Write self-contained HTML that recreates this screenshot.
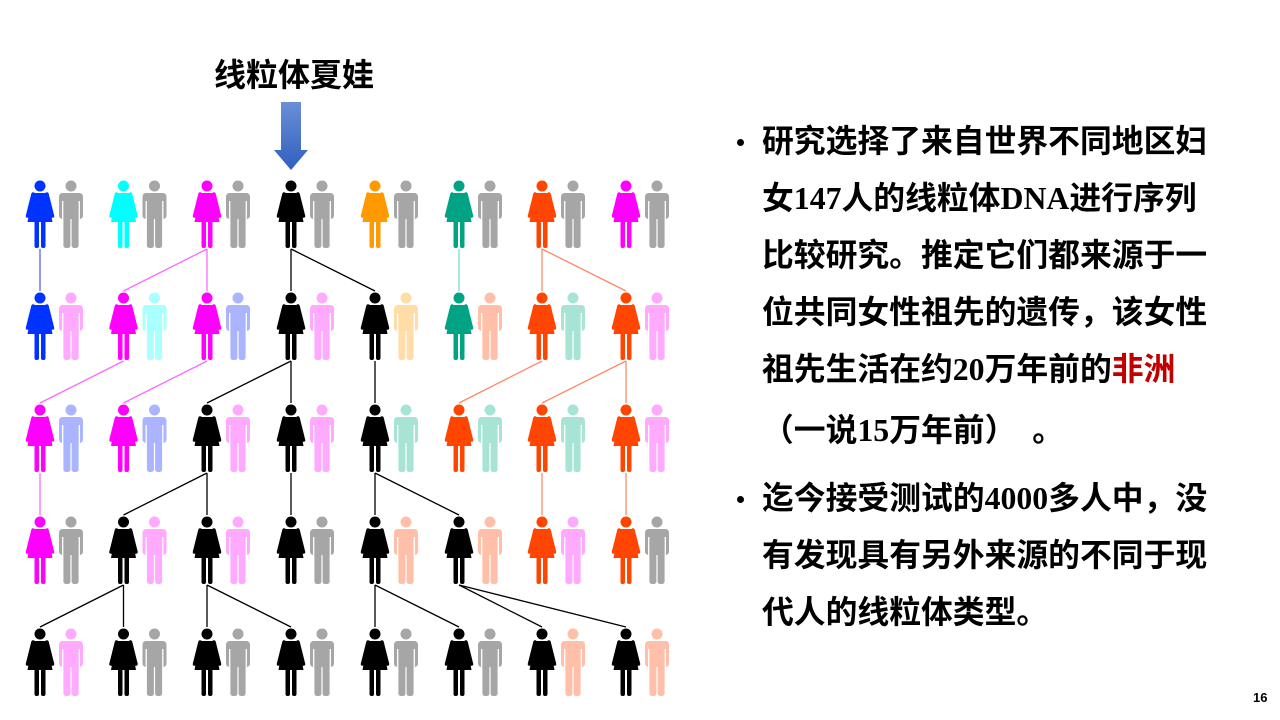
<!DOCTYPE html>
<html><head><meta charset="utf-8"><style>
html,body{margin:0;padding:0;background:#fff;}
#p{position:relative;width:1280px;height:720px;overflow:hidden;background:#fff;}
.t{position:absolute;font-family:"Liberation Serif","Noto Sans CJK SC",sans-serif;font-weight:bold;font-size:31.8px;color:#000;white-space:nowrap;line-height:40px;}
.b{position:absolute;width:7px;height:7px;border-radius:50%;background:#000;}
</style></head><body><div id="p">
<div style="position:absolute;left:214px;top:54px;font-family:'Liberation Sans','Noto Sans CJK SC',sans-serif;font-weight:bold;font-size:32px;line-height:42px;">线粒体夏娃</div>
<svg width="1280" height="720" style="position:absolute;left:0;top:0">
<defs>
<linearGradient id="g" x1="0" y1="0" x2="0" y2="1"><stop offset="0" stop-color="#6a8fd6"/><stop offset="1" stop-color="#2f5fbf"/></linearGradient>
<symbol id="f" overflow="visible"><circle cx="0" cy="6" r="5.5" fill="currentColor"/><path d="M-7,13 L7,13 L12.5,42 L-12.5,42 Z" fill="currentColor"/><path d="M-7,14 L-12.5,36 M7,14 L12.5,36" stroke="currentColor" stroke-width="3.5" stroke-linecap="round"/><rect x="-5.5" y="39" width="4.5" height="29" rx="2" fill="currentColor"/><rect x="1" y="39" width="4.5" height="29" rx="2" fill="currentColor"/></symbol>
<symbol id="m" overflow="visible"><circle cx="0" cy="6" r="5.5" fill="currentColor"/><rect x="-12" y="13" width="24" height="26" rx="3.5" fill="currentColor"/><path d="M-8.3,21 V40 M8.3,21 V40" stroke="#fff" stroke-width="1.3"/><rect x="-7.6" y="36" width="7" height="32" rx="2.5" fill="currentColor"/><rect x="0.6" y="36" width="7" height="32" rx="2.5" fill="currentColor"/></symbol>
</defs>
<path d="M281,102 H301 V150 H308 L291,170 L274,150 H281 Z" fill="url(#g)"/>
<g stroke-width="1.3" fill="none">
<line x1="40" y1="249" x2="40" y2="291" stroke="#5566ee"/>
<line x1="207" y1="249" x2="123.5" y2="291" stroke="#ff66ff"/><line x1="207" y1="249" x2="207" y2="291" stroke="#ff66ff"/>
<line x1="291" y1="249" x2="291" y2="291" stroke="#000"/><line x1="291" y1="249" x2="375" y2="291" stroke="#000"/>
<line x1="459" y1="249" x2="459" y2="291" stroke="#77ddcc"/>
<line x1="542" y1="249" x2="542" y2="291" stroke="#ff8866"/><line x1="542" y1="249" x2="626" y2="291" stroke="#ff8866"/>
<line x1="123.5" y1="361" x2="40" y2="403" stroke="#ff66ff"/><line x1="207" y1="361" x2="123.5" y2="403" stroke="#ff66ff"/>
<line x1="291" y1="361" x2="207" y2="403" stroke="#000"/><line x1="291" y1="361" x2="291" y2="403" stroke="#000"/>
<line x1="375" y1="361" x2="375" y2="403" stroke="#000"/>
<line x1="542" y1="361" x2="459" y2="403" stroke="#ff8866"/><line x1="626" y1="361" x2="542" y2="403" stroke="#ff8866"/><line x1="626" y1="361" x2="626" y2="403" stroke="#ff8866"/>
<line x1="40" y1="473" x2="40" y2="515" stroke="#ff66ff"/>
<line x1="207" y1="473" x2="123.5" y2="515" stroke="#000"/><line x1="207" y1="473" x2="207" y2="515" stroke="#000"/>
<line x1="291" y1="473" x2="291" y2="515" stroke="#000"/>
<line x1="375" y1="473" x2="375" y2="515" stroke="#000"/><line x1="375" y1="473" x2="459" y2="515" stroke="#000"/>
<line x1="542" y1="473" x2="542" y2="515" stroke="#ff8866"/><line x1="626" y1="473" x2="626" y2="515" stroke="#ff8866"/>
<line x1="123.5" y1="585" x2="40" y2="627" stroke="#000"/><line x1="123.5" y1="585" x2="123.5" y2="627" stroke="#000"/>
<line x1="207" y1="585" x2="207" y2="627" stroke="#000"/><line x1="207" y1="585" x2="291" y2="627" stroke="#000"/>
<line x1="375" y1="585" x2="375" y2="627" stroke="#000"/><line x1="375" y1="585" x2="459" y2="627" stroke="#000"/>
<line x1="459" y1="585" x2="542" y2="627" stroke="#000"/><line x1="459" y1="585" x2="626" y2="627" stroke="#000"/>
</g>
<g transform="translate(0,180)">
<use href="#f" x="40" color="#0033ff"/><use href="#m" x="71" color="#a6a6a6"/>
<use href="#f" x="123.5" color="#00ffff"/><use href="#m" x="154.5" color="#a6a6a6"/>
<use href="#f" x="207" color="#ff00ff"/><use href="#m" x="238" color="#a6a6a6"/>
<use href="#f" x="291" color="#000"/><use href="#m" x="322" color="#a6a6a6"/>
<use href="#f" x="375" color="#ff9900"/><use href="#m" x="406" color="#a6a6a6"/>
<use href="#f" x="459" color="#00a383"/><use href="#m" x="490" color="#a6a6a6"/>
<use href="#f" x="542" color="#ff4500"/><use href="#m" x="573" color="#a6a6a6"/>
<use href="#f" x="626" color="#ff00ff"/><use href="#m" x="657" color="#a6a6a6"/>
</g>
<g transform="translate(0,292)">
<use href="#f" x="40" color="#0033ff"/><use href="#m" x="71" color="#ffaaff"/>
<use href="#f" x="123.5" color="#ff00ff"/><use href="#m" x="154.5" color="#aaffff"/>
<use href="#f" x="207" color="#ff00ff"/><use href="#m" x="238" color="#aab4ff"/>
<use href="#f" x="291" color="#000"/><use href="#m" x="322" color="#ffaaff"/>
<use href="#f" x="375" color="#000"/><use href="#m" x="406" color="#ffdca8"/>
<use href="#f" x="459" color="#00a383"/><use href="#m" x="490" color="#ffbfa8"/>
<use href="#f" x="542" color="#ff4500"/><use href="#m" x="573" color="#a8e4d6"/>
<use href="#f" x="626" color="#ff4500"/><use href="#m" x="657" color="#ffaaff"/>
</g>
<g transform="translate(0,404)">
<use href="#f" x="40" color="#ff00ff"/><use href="#m" x="71" color="#aab4ff"/>
<use href="#f" x="123.5" color="#ff00ff"/><use href="#m" x="154.5" color="#aab4ff"/>
<use href="#f" x="207" color="#000"/><use href="#m" x="238" color="#ffaaff"/>
<use href="#f" x="291" color="#000"/><use href="#m" x="322" color="#ffaaff"/>
<use href="#f" x="375" color="#000"/><use href="#m" x="406" color="#a8e4d6"/>
<use href="#f" x="459" color="#ff4500"/><use href="#m" x="490" color="#a8e4d6"/>
<use href="#f" x="542" color="#ff4500"/><use href="#m" x="573" color="#a8e4d6"/>
<use href="#f" x="626" color="#ff4500"/><use href="#m" x="657" color="#ffaaff"/>
</g>
<g transform="translate(0,516)">
<use href="#f" x="40" color="#ff00ff"/><use href="#m" x="71" color="#a6a6a6"/>
<use href="#f" x="123.5" color="#000"/><use href="#m" x="154.5" color="#ffaaff"/>
<use href="#f" x="207" color="#000"/><use href="#m" x="238" color="#ffaaff"/>
<use href="#f" x="291" color="#000"/><use href="#m" x="322" color="#a6a6a6"/>
<use href="#f" x="375" color="#000"/><use href="#m" x="406" color="#ffbfa8"/>
<use href="#f" x="459" color="#000"/><use href="#m" x="490" color="#ffbfa8"/>
<use href="#f" x="542" color="#ff4500"/><use href="#m" x="573" color="#ffaaff"/>
<use href="#f" x="626" color="#ff4500"/><use href="#m" x="657" color="#a6a6a6"/>
</g>
<g transform="translate(0,628)">
<use href="#f" x="40" color="#000"/><use href="#m" x="71" color="#ffaaff"/>
<use href="#f" x="123.5" color="#000"/><use href="#m" x="154.5" color="#a6a6a6"/>
<use href="#f" x="207" color="#000"/><use href="#m" x="238" color="#a6a6a6"/>
<use href="#f" x="291" color="#000"/><use href="#m" x="322" color="#a6a6a6"/>
<use href="#f" x="375" color="#000"/><use href="#m" x="406" color="#a6a6a6"/>
<use href="#f" x="459" color="#000"/><use href="#m" x="490" color="#a6a6a6"/>
<use href="#f" x="542" color="#000"/><use href="#m" x="573" color="#ffbfa8"/>
<use href="#f" x="626" color="#000"/><use href="#m" x="657" color="#ffbfa8"/>
</g>
</svg>
<div class="b" style="left:737px;top:139px"></div>
<div class="t" style="left:762px;top:122px">研究选择了来自世界不同地区妇</div>
<div class="t" style="left:762px;top:179px">女147人的线粒体DNA进行序列</div>
<div class="t" style="left:762px;top:236px">比较研究。推定它们都来源于一</div>
<div class="t" style="left:762px;top:293px">位共同女性祖先的遗传，该女性</div>
<div class="t" style="left:762px;top:350px">祖先生活在约20万年前的<span style="color:#c00000">非洲</span></div>
<div class="t" style="left:762px;top:411px">（一说15万年前）&nbsp;&nbsp;。</div>
<div class="b" style="left:737px;top:496px"></div>
<div class="t" style="left:762px;top:479px">迄今接受测试的4000多人中，没</div>
<div class="t" style="left:762px;top:536px">有发现具有另外来源的不同于现</div>
<div class="t" style="left:762px;top:593px">代人的线粒体类型。</div>
<div style="position:absolute;left:1253px;top:690px;font-family:'Liberation Sans',sans-serif;font-weight:bold;font-size:13px;">16</div>
</div></body></html>
